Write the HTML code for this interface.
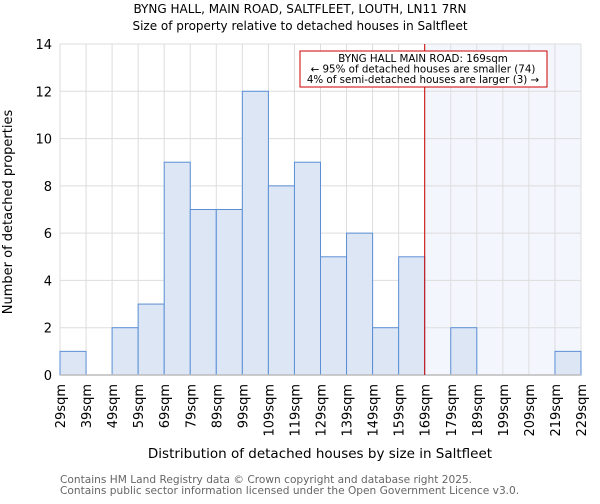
<!DOCTYPE html>
<html><head><meta charset="utf-8"><style>
body{margin:0;background:#fff;font-family:"DejaVu Sans","Liberation Sans",sans-serif;}
svg text{font-family:"DejaVu Sans","Liberation Sans",sans-serif;}
</style></head><body>
<svg id="chart" width="600" height="500" xmlns="http://www.w3.org/2000/svg">
<text x="300" y="13" text-anchor="middle" font-size="12" fill="#000">BYNG HALL, MAIN ROAD, SALTFLEET, LOUTH, LN11 7RN</text>
<text x="300" y="30" text-anchor="middle" font-size="12" fill="#000">Size of property relative to detached houses in Saltfleet</text>
<g id="plot"></g>
<text x="320" y="458" text-anchor="middle" font-size="13.5" fill="#000">Distribution of detached houses by size in Saltfleet</text>
<text transform="translate(12,212) rotate(-90)" text-anchor="middle" font-size="13" fill="#000">Number of detached properties</text>
<text x="60" y="483" font-size="10.6" fill="#666">Contains HM Land Registry data © Crown copyright and database right 2025.</text>
<text x="60" y="494" font-size="10.6" fill="#666">Contains public sector information licensed under the Open Government Licence v3.0.</text>
</svg>
<script>
const binLabels=["29sqm","39sqm","49sqm","59sqm","69sqm","79sqm","89sqm","99sqm","109sqm","119sqm","129sqm","139sqm","149sqm","159sqm","169sqm","179sqm","189sqm","199sqm","209sqm","219sqm","229sqm"];
const counts=[1,0,2,3,9,7,7,12,8,9,5,6,2,5,0,2,0,0,0,1];
const yTicks=[0,2,4,6,8,10,12,14];
const markerBin=14;
const annotation=["BYNG HALL MAIN ROAD: 169sqm","← 95% of detached houses are smaller (74)","4% of semi-detached houses are larger (3) →"];
const NS="http://www.w3.org/2000/svg";
const L=60,R=581,T=44,B=375,yMax=14;
const bw=(R-L)/counts.length;
const xs=i=>L+i*bw;
const ys=v=>B-(v/yMax)*(B-T);
const g=document.getElementById('plot');
function mk(tag,attrs){const e=document.createElementNS(NS,tag);for(const k in attrs)e.setAttribute(k,attrs[k]);g.appendChild(e);return e;}
let e=mk('rect',{x:xs(markerBin),y:T,width:R-xs(markerBin),height:B-T,fill:"#f4f6fd"});


for(let i=0;i<binLabels.length;i++){
 e=mk('line',{x1:xs(i),x2:xs(i),y1:T,y2:B,stroke:"#dddddd","stroke-width":1});
 
 
}
yTicks.forEach(v=>{
 e=mk('line',{x1:L,x2:R,y1:ys(v),y2:ys(v),stroke:"#dddddd","stroke-width":1});
 
 
 e=mk('text',{x:L-8,y:ys(v)+5,"text-anchor":"end","font-size":"13",fill:"#000"});
 e.textContent=v;
 
 
});
counts.forEach((c,i)=>{
 if(c<=0)return;
 e=mk('rect',{x:xs(i),y:ys(c),width:bw,height:B-ys(c),fill:"#dce6f4",stroke:"#5b8fd6","stroke-width":1});
 
 
});
e=mk('line',{x1:L,x2:R,y1:B,y2:B,stroke:"#bbb","stroke-width":1.5});


binLabels.forEach((s,i)=>{
 e=mk('text',{transform:`translate(${xs(i)+5},384) rotate(-90)`,"text-anchor":"end","font-size":"13",fill:"#000"});
 e.textContent=s;
 
 
});
e=mk('line',{x1:xs(markerBin),x2:xs(markerBin),y1:T,y2:B,stroke:"#cc0000","stroke-width":1});


e=mk('rect',{x:300,y:51,width:247,height:36,fill:"#fff",stroke:"#cc0000","stroke-width":1});


annotation.forEach((s,k)=>{
 e=mk('text',{x:423,y:62+k*10.5,"text-anchor":"middle","font-size":"10.3",fill:"#000"});
 e.textContent=s;
 
 
});
</script>
</body></html>
